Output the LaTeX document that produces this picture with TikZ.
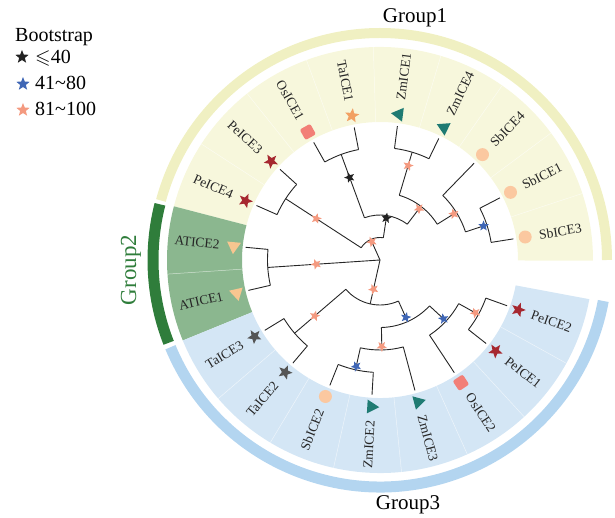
\documentclass[tikz,border=0pt]{standalone}
\usepackage{fontspec}
\setmainfont{Liberation Serif}
\usepackage{amssymb}
\usetikzlibrary{shapes.geometric}
\definecolor{yfill}{HTML}{F7F7DC}
\definecolor{gfill}{HTML}{8BB78F}
\definecolor{bfill}{HTML}{D4E6F5}
\definecolor{yarc}{HTML}{F0F0C2}
\definecolor{garc}{HTML}{2F7D3B}
\definecolor{barc}{HTML}{B3D5F0}
\definecolor{pec}{HTML}{A62830}
\definecolor{taoc}{HTML}{F2A062}
\definecolor{tagc}{HTML}{555555}
\definecolor{zmc}{HTML}{1F7B73}
\definecolor{sbc}{HTML}{FBC8A0}
\definecolor{osc}{HTML}{F27F77}
\definecolor{atc}{HTML}{F8C690}
\definecolor{bsk}{HTML}{222222}
\definecolor{bsb}{HTML}{3F66B5}
\definecolor{bso}{HTML}{F49A80}
\tikzset{
  tree/.style={draw=black!85, line width=0.9pt},
  lab/.style={font=\fontsize{13.5}{15}\selectfont, inner sep=0pt, text=black!85},
  symbase/.style={inner sep=0pt, draw=none},
  sbsym/.style={symbase, circle, fill=sbc, minimum size=13pt},
  zmsym/.style={symbase, regular polygon, regular polygon sides=3, fill=zmc, minimum size=16pt, rotate=\a},
  atsym/.style={symbase, regular polygon, regular polygon sides=3, fill=atc, minimum size=16pt, rotate=\a},
  pesym/.style={symbase, star, star points=5, star point ratio=2.3, fill=pec, minimum size=15pt, rotate=\rr},
  taosym/.style={symbase, star, star points=5, star point ratio=2.3, fill=taoc, minimum size=15pt, rotate=\rr},
  tagsym/.style={symbase, star, star points=5, star point ratio=2.3, fill=tagc, minimum size=15pt, rotate=\rr},
  ossym/.style={symbase, rectangle, rounded corners=2pt, fill=osc, minimum size=12pt, rotate=\rr},
  bs/.style={star, star points=5, star point ratio=2.3, minimum size=11pt, inner sep=0pt},
  grp/.style={font=\fontsize{21}{24}\selectfont, inner sep=0pt},
  leg/.style={font=\fontsize{20}{22}\selectfont, inner sep=0pt, anchor=base west},
}
\newcommand{\rad}[3]{\draw[tree] (#1:#2pt) -- (#1:#3pt);}
\newcommand{\arcr}[3]{\draw[tree] (#1:#3pt) arc[start angle=#1, end angle=#2, radius=#3pt];}
\newcommand{\sectorband}[3]{\fill[#3] (#1:138pt) arc[start angle=#1,end angle=#2,radius=138pt] -- (#2:213pt) arc[start angle=#2,end angle=#1,radius=213pt] -- cycle;}
\newcommand{\grouparc}[4]{\draw[line width=#4pt, #3] (#1:227pt) arc[start angle=#1,end angle=#2,radius=227pt];}
\newcommand{\bstar}[4]{\node[bs, fill=#3, rotate=#1-90] (#4) at (#1:#2pt) {};}
\begin{document}
\begin{tikzpicture}[x=1pt,y=1pt]
\useasboundingbox (-380,-258) rectangle (235,260);
% sector bands
\sectorband{-0.2}{165.4}{yfill}
\sectorband{165.4}{202.2}{gfill}
\sectorband{202.2}{349.4}{bfill}
\foreach \b in {18.2,36.6,55,73.4,91.8,110.2,128.6,147,183.8,220.6,239,257.4,275.8,294.2,312.6,331}
  \draw[white, opacity=0.6, line width=0.5pt] (\b:138pt) -- (\b:213pt);
% group arcs
\grouparc{0}{164.8}{yarc}{10}
\grouparc{165.8}{201.4}{garc}{11}
\grouparc{202.6}{349.6}{barc}{11}
\node[grp] (g1) at (35,242) {Group1};
\node[grp, text=garc, rotate=90, font=\fontsize{23}{26}\selectfont] (g2) at (-249,-10) {Group2};
\node[grp] (g3) at (28,-245) {Group3};
% tree
\coordinate (root) at (0,0);
\arcr{9}{27.4}{112.5} \rad{9}{112.5}{135} \rad{27.4}{112.5}{135}
\arcr{18.2}{45.8}{90} \rad{18.2}{90}{112.5} \rad{45.8}{90}{135}
\arcr{64.2}{82.6}{112.5} \rad{64.2}{112.5}{135} \rad{82.6}{112.5}{135}
\arcr{32}{73.4}{67.5} \rad{32}{67.5}{90} \rad{73.4}{67.5}{112.5}
\arcr{101}{119.4}{112.5} \rad{101}{112.5}{135} \rad{119.4}{112.5}{135}
\arcr{52.7}{110.2}{45} \rad{52.7}{45}{67.5} \rad{110.2}{45}{112.5}
\arcr{137.8}{156.2}{112.5} \rad{137.8}{112.5}{135} \rad{156.2}{112.5}{135}
\arcr{81.45}{147}{22.5} \rad{81.45}{22.5}{45} \rad{147}{22.5}{112.5}
\rad{114.2}{0}{22.5}
\arcr{174.6}{193}{112.5} \rad{174.6}{112.5}{135} \rad{193}{112.5}{135}
\rad{183.8}{0}{112.5}
\arcr{211.4}{229.8}{112.5} \rad{211.4}{112.5}{135} \rad{229.8}{112.5}{135}
\arcr{248.2}{266.6}{112.5} \rad{248.2}{112.5}{135} \rad{266.6}{112.5}{135}
\arcr{257.4}{285}{90} \rad{257.4}{90}{112.5} \rad{285}{90}{135}
\arcr{321.8}{340.2}{112.5} \rad{321.8}{112.5}{135} \rad{340.2}{112.5}{135}
\arcr{303.4}{331}{90} \rad{303.4}{90}{135} \rad{331}{90}{112.5}
\arcr{271.2}{317.2}{67.5} \rad{271.2}{67.5}{90} \rad{317.2}{67.5}{90}
\arcr{220.6}{294.2}{45} \rad{220.6}{45}{112.5} \rad{294.2}{45}{67.5}
\rad{257.4}{0}{45}
% bootstrap stars
\bstar{73.4}{98.5}{bso}{b1}
\bstar{52.7}{64.5}{bso}{b2}
\bstar{32}{87}{bso}{b3}
\bstar{18.2}{109}{bsb}{b4}
\bstar{81.45}{42.5}{bsk}{b5}
\bstar{110.2}{88}{bsk}{b6}
\bstar{114.2}{20}{bso}{b7}
\bstar{147}{76}{bso}{b8}
\bstar{183.8}{64}{bso}{b9}
\bstar{257.4}{30}{bso}{b10}
\bstar{220.6}{86}{bso}{b11}
\bstar{294.2}{63}{bsb}{b12}
\bstar{271.2}{86.5}{bso}{b13}
\bstar{257.4}{109}{bsb}{b14}
\bstar{317.2}{86.5}{bsb}{b15}
\bstar{331}{109}{bso}{b16}
% leaves
\foreach \a/\n/\s [count=\i] in {9.0/SbICE3/sbsym, 27.4/SbICE1/sbsym, 45.8/SbICE4/sbsym, 64.2/ZmICE4/zmsym, 82.6/ZmICE1/zmsym, 101.0/TaICE1/taosym, 119.4/OsICE1/ossym, 137.8/PeICE3/pesym, 156.2/PeICE4/pesym, 174.6/ATICE2/atsym, 193.0/ATICE1/atsym, 211.4/TaICE3/tagsym, 229.8/TaICE2/tagsym, 248.2/SbICE2/sbsym, 266.6/ZmICE2/zmsym, 285.0/ZmICE3/zmsym, 303.4/OsICE2/ossym, 321.8/PeICE1/pesym, 340.2/PeICE2/pesym} {
  \pgfmathtruncatemacro\lft{(\a>90)&&(\a<270)}
  \ifnum\lft=1
    \pgfmathsetmacro\rr{\a-180}
    \node[\s] (s\i) at (\a:147pt) {};
    \node[lab, anchor=east, rotate=\rr] (l\i) at (\a:161pt) {\n};
  \else
    \pgfmathsetmacro\rr{\a}
    \node[\s] (s\i) at (\a:147pt) {};
    \node[lab, anchor=west, rotate=\rr] (l\i) at (\a:161pt) {\n};
  \fi
}
% legend
\node[leg] (lt) at (-365,218) {Bootstrap};
\node[bs, fill=bsk, minimum size=14pt] (k1) at (-358,203) {};
\node[leg] (k1t) at (-345,196) {$\leqslant$40};
\node[bs, fill=bsb, minimum size=14pt] (k2) at (-357,176) {};
\node[leg] (k2t) at (-345,170) {41\char`~80};
\node[bs, fill=bso, minimum size=14pt] (k3) at (-357,150) {};
\node[leg] (k3t) at (-345,144) {81\char`~100};
\end{tikzpicture}
\end{document}
